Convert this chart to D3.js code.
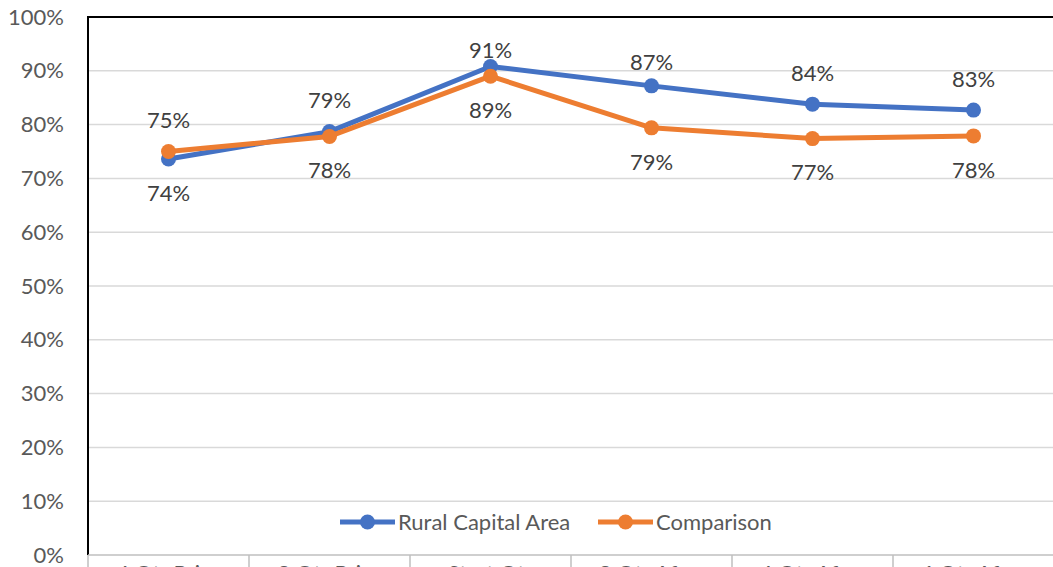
<!DOCTYPE html>
<html>
<head>
<meta charset="utf-8">
<script src="https://cdn.jsdelivr.net/npm/d3@7"></script>
<style>
  html, body { margin: 0; padding: 0; background: #fff; }
  svg { display: block; font-family: Lato, "Open Sans", sans-serif; }
</style>
</head>
<body>
<svg id="chart" width="1053" height="567"></svg>
<script>
// Quarterly share, two groups
const categories = ["4 Qtr Prior", "2 Qtr Prior", "Start Qtr", "2 Qtr After", "4 Qtr After", "6 Qtr After"];
const ruralCapital = [0.736, 0.787, 0.908, 0.872, 0.838, 0.827];
const comparison = [0.750, 0.778, 0.890, 0.794, 0.774, 0.779];
const seriesNames = ["Rural Capital Area", "Comparison"];
const yTicks = [0, 0.1, 0.2, 0.3, 0.4, 0.5, 0.6, 0.7, 0.8, 0.9, 1.0];

const colors = ["#4472C4", "#ED7D31"];
const fontSize = 22;
const svg = d3.select("#chart");

const plot = { left: 88, top: 17, right: 1054, bottom: 555 };

const x = d3.scaleBand().domain(categories).range([plot.left, plot.right]);
const y = d3.scaleLinear().domain([0, 1]).range([plot.bottom, plot.top]);
const fmt = d3.format(".0%");

// gridlines
svg.append("g")
  .selectAll("line")
  .data(yTicks.slice(1))
  .join("line")
  .attr("x1", plot.left).attr("x2", plot.right)
  .attr("y1", d => y(d)).attr("y2", d => y(d))
  .attr("stroke", "#d9d9d9").attr("stroke-width", 1.5);

// plot area frame (left and top)
svg.append("path")
  .attr("d", `M${plot.left},${plot.bottom} V${plot.top} H${plot.right}`)
  .attr("fill", "none").attr("stroke", "#000").attr("stroke-width", 2);

// y axis labels
const yAxis = d3.axisLeft(y).tickValues(yTicks).tickFormat(fmt).tickSize(0).tickPadding(0);
const yg = svg.append("g").attr("transform", "translate(64,0)").call(yAxis);
yg.select(".domain").remove();
yg.selectAll("text").attr("fill", "#595959").attr("font-size", fontSize)
  .attr("font-family", "Lato, 'Open Sans', sans-serif");

// x axis with tick marks between categories
const xg = svg.append("g").attr("transform", `translate(0,${plot.bottom})`);
xg.append("line").attr("x1", plot.left).attr("x2", plot.right)
  .attr("stroke", "#bfbfbf").attr("stroke-width", 1.5);
xg.selectAll("line.tick")
  .data(categories)
  .join("line")
  .attr("class", "tick")
  .attr("x1", d => x(d)).attr("x2", d => x(d))
  .attr("y1", 0).attr("y2", 14)
  .attr("stroke", "#bfbfbf").attr("stroke-width", 1.5);
xg.selectAll("text")
  .data(categories)
  .join("text")
  .attr("x", d => x(d) + x.bandwidth() / 2)
  .attr("y", 26)
  .attr("text-anchor", "middle")
  .attr("fill", "#595959").attr("font-size", fontSize)
  .text(d => d);

// series lines and markers
const series = [ruralCapital, comparison];
const line = d3.line()
  .x((d, i) => x(categories[i]) + x.bandwidth() / 2)
  .y(d => y(d));

series.forEach((vals, s) => {
  const g = svg.append("g");
  g.append("path").datum(vals)
    .attr("d", line)
    .attr("fill", "none")
    .attr("stroke", colors[s]).attr("stroke-width", 5)
    .attr("stroke-linejoin", "round");
  g.selectAll("circle").data(vals).join("circle")
    .attr("cx", (d, i) => x(categories[i]) + x.bandwidth() / 2)
    .attr("cy", d => y(d))
    .attr("r", 7.5)
    .attr("fill", colors[s]);
});

// data labels: the higher series above, the lower below
const labelGap = { above: -31, below: 34 };
const nudge = { "0-2": 15, "0-3": 7 };
series.forEach((vals, s) => {
  svg.append("g").selectAll("text").data(vals).join("text")
    .attr("x", (d, i) => x(categories[i]) + x.bandwidth() / 2)
    .attr("y", (d, i) => {
      const other = series[1 - s][i];
      const dy = d >= other ? labelGap.above + (nudge[s + "-" + i] || 0) : labelGap.below;
      return y(d) + dy;
    })
    .attr("dy", "0.35em")
    .attr("text-anchor", "middle")
    .attr("fill", "#404040").attr("font-size", fontSize)
    .text(d => fmt(d));
});

// legend
const legendItems = [
  { name: seriesNames[0], color: colors[0], x: 340 },
  { name: seriesNames[1], color: colors[1], x: 598 }
];
const lg = svg.append("g").attr("transform", "translate(0,522)");
legendItems.forEach(it => {
  lg.append("line").attr("x1", it.x).attr("x2", it.x + 55)
    .attr("stroke", it.color).attr("stroke-width", 5);
  lg.append("circle").attr("cx", it.x + 27.5).attr("cy", 0).attr("r", 7.5).attr("fill", it.color);
  lg.append("text").attr("x", it.x + 58).attr("dy", "0.35em")
    .attr("fill", "#595959").attr("font-size", fontSize).text(it.name);
});
</script>
</body>
</html>
